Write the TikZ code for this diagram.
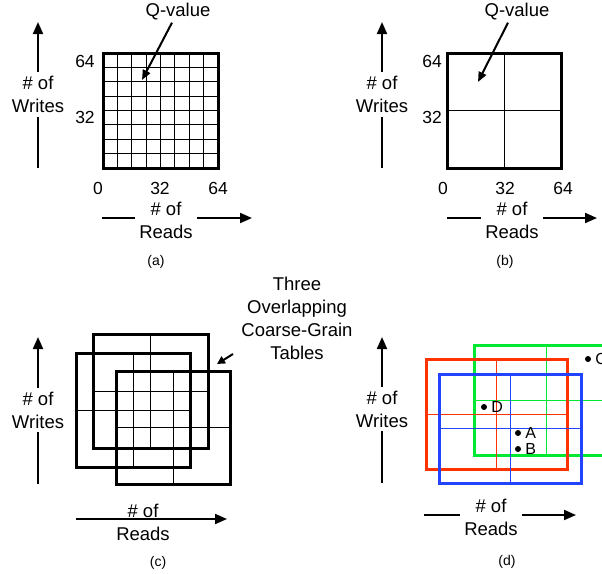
\documentclass[tikz,border=0pt]{standalone}
\usepackage{fontspec}
\setmainfont{Liberation Sans}
\usetikzlibrary{arrows.meta,calc}
\definecolor{tred}{RGB}{255,51,0}
\definecolor{tgreen}{RGB}{0,232,50}
\definecolor{tblue}{RGB}{34,68,255}
\begin{document}
\begin{tikzpicture}[x=1pt,y=-1pt,
  lbl/.style={font=\fontsize{18.5}{23}\selectfont, align=center, inner sep=4pt},
  tick/.style={font=\fontsize{17.5}{21}\selectfont, inner sep=0pt},
  ptlbl/.style={font=\fontsize{16}{18}\selectfont, inner sep=0pt, anchor=west},
  subcap/.style={font=\fontsize{14}{16}\selectfont},
  axis/.style={line width=2pt, -{Triangle[length=12pt,width=10pt]}},
  axisline/.style={line width=2pt},
  frame/.style={draw, line width=3pt, inner sep=0pt, outer sep=0pt},
  thinl/.style={line width=1pt},
  ptr/.style={line width=2pt, -{Triangle[length=10pt,width=8pt]}},
  ptrs/.style={line width=2pt, -{Triangle[length=8pt,width=8pt]}},
  dot/.style={circle, fill, inner sep=0pt, minimum size=6pt}
]
\useasboundingbox (0,0) rectangle (602,573);

% ---------------- panel (a)
\node[frame, minimum width=115pt, minimum height=115pt] (ga) at (160.5,110.5) {};
\foreach \i in {1,...,7} {
  \draw[thinl] ($(ga.north west)!\i/8!(ga.north east)$) -- ($(ga.south west)!\i/8!(ga.south east)$);
  \draw[thinl] ($(ga.north west)!\i/8!(ga.south west)$) -- ($(ga.north east)!\i/8!(ga.south east)$);
}
\node[tick] (a64y) at (85,61) {64};
\node[tick] (a32y) at (85,117) {32};
\node[tick] (a0x) at (98,188) {0};
\node[tick] (a32x) at (160,188) {32};
\node[tick] (a64x) at (218,188) {64};
\node[lbl] (wa) at (38,94.5) {\# of\\Writes};
\coordinate (wa0) at (38,168);
\coordinate (wa1) at (38,22);
\draw[axisline] (wa0) -- (wa.south);
\draw[axis] (wa.north) -- (wa1);
\node[lbl] (ra) at (166,220) {\# of\\Reads};
\coordinate (ra0) at (102,218);
\coordinate (ra1) at (252,218);
\draw[axisline] (ra0) -- (ra.west |- ra0);
\draw[axis] (ra.east |- ra1) -- (ra1);
\node[lbl, inner sep=2pt] (qa) at (178,12) {Q-value};
\coordinate (qat) at (142,80);
\draw[ptr] ([xshift=-6pt]qa.south) -- (qat);
\node[subcap] (capa) at (156,262) {(a)};

% ---------------- panel (b)
\node[frame, minimum width=114pt, minimum height=115pt] (gb) at (504,110.5) {};
\draw[thinl] (gb.north) -- (gb.south);
\draw[thinl] (gb.west) -- (gb.east);
\node[tick] (b64y) at (432,61) {64};
\node[tick] (b32y) at (432,117) {32};
\node[tick] (b0x) at (443,188) {0};
\node[tick] (b32x) at (505,188) {32};
\node[tick] (b64x) at (563,188) {64};
\node[lbl] (wb) at (382,94.5) {\# of\\Writes};
\coordinate (wb0) at (382,168);
\coordinate (wb1) at (382,22);
\draw[axisline] (wb0) -- (wb.south);
\draw[axis] (wb.north) -- (wb1);
\node[lbl] (rb) at (512,220) {\# of\\Reads};
\coordinate (rb0) at (447,218);
\coordinate (rb1) at (597,218);
\draw[axisline] (rb0) -- (rb.west |- rb0);
\draw[axis] (rb.east |- rb1) -- (rb1);
\node[lbl, inner sep=2pt] (qb) at (517,12) {Q-value};
\coordinate (qbt) at (478,82);
\draw[ptr] ([xshift=-9pt]qb.south) -- (qbt);
\node[subcap] (capb) at (505,262) {(b)};

% ---------------- panel (c)
\node[frame, minimum width=115pt, minimum height=114pt] (c1) at (150.5,391) {};
\node[frame, minimum width=114pt, minimum height=114pt] (c2) at (133,410) {};
\node[frame, minimum width=114pt, minimum height=113pt] (c3) at (173,427.5) {};
\foreach \b in {c1,c2,c3} {
  \draw[thinl] (\b.north) -- (\b.south);
  \draw[thinl] (\b.west) -- (\b.east);
}
\node[lbl] (three) at (297,318) {Three\\Overlapping\\Coarse-Grain\\Tables};
\coordinate (tp0) at (233,354);
\coordinate (tp1) at (217,364);
\draw[ptrs] (tp0) -- (tp1);
\node[lbl] (wc) at (38,410) {\# of\\Writes};
\coordinate (wc0) at (38,484);
\coordinate (wc1) at (38,337);
\draw[axisline] (wc0) -- (wc.south);
\draw[axis] (wc.north) -- (wc1);
\coordinate (rc0) at (76,519);
\coordinate (rc1) at (227,519);
\draw[axis] (rc0) -- (rc1);
\node[lbl] (rc) at (143,522) {\# of\\Reads};
\node[subcap] (capc) at (158,563) {(c)};

% ---------------- panel (d)
\node[frame, draw=tgreen, minimum width=144pt, minimum height=110pt] (dg) at (546,400) {};
\draw[thinl, tgreen] (dg.north) -- (dg.south);
\draw[thinl, tgreen] (dg.west) -- (dg.east);
\node[frame, draw=tred, minimum width=141pt, minimum height=110pt] (dr) at (496.5,414) {};
\draw[thinl, tred] (dr.north) -- (dr.south);
\draw[thinl, tred] (dr.west) -- (dr.east);
\node[frame, draw=tblue, minimum width=142pt, minimum height=109pt] (db) at (510,428.5) {};
\draw[thinl, tblue] (db.north) -- (db.south);
\draw[thinl, tblue] (db.west) -- (db.east);
\node[dot] (pC) at (588,359) {};
\node[ptlbl] (lC) at ([xshift=4pt]pC.east) {C};
\node[dot] (pD) at (484,407) {};
\node[ptlbl] (lD) at ([xshift=4pt]pD.east) {D};
\node[dot] (pA) at (518,433) {};
\node[ptlbl] (lA) at ([xshift=4pt]pA.east) {A};
\node[dot] (pB) at (518,449) {};
\node[ptlbl] (lB) at ([xshift=4pt]pB.east) {B};
\node[lbl] (wd) at (382,409) {\# of\\Writes};
\coordinate (wd0) at (382,483);
\coordinate (wd1) at (382,337);
\draw[axisline] (wd0) -- (wd.south);
\draw[axis] (wd.north) -- (wd1);
\node[lbl] (rd) at (491,517) {\# of\\Reads};
\coordinate (rd0) at (424,515);
\coordinate (rd1) at (576,515);
\draw[axisline] (rd0) -- (rd.west |- rd0);
\draw[axis] (rd.east |- rd1) -- (rd1);
\node[subcap] (capd) at (507,562) {(d)};
\end{tikzpicture}
\end{document}
